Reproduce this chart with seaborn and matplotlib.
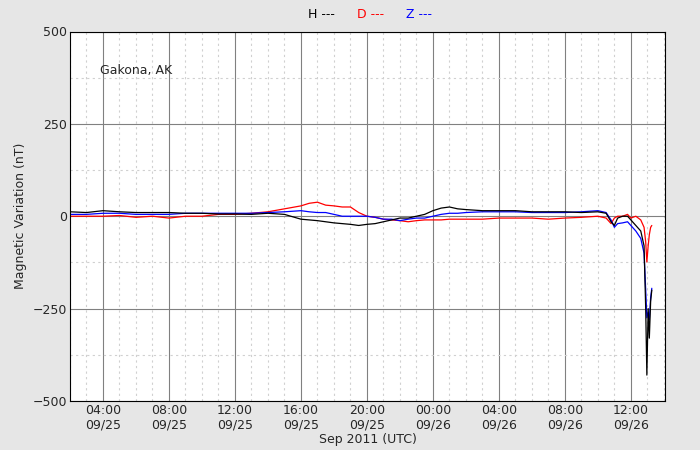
import numpy as np
import pandas as pd
import matplotlib
matplotlib.use("Agg")
import matplotlib.pyplot as plt
import matplotlib.dates as mdates
import seaborn as sns

# hours since 2011-09-25 00:00 UTC
hours = [2, 3, 4, 5, 6, 7, 8, 9, 10, 11, 12, 13, 14, 15, 16, 16.5, 17, 17.5, 18, 18.5,
         19, 19.5, 20, 20.5, 21, 21.5, 22, 22.5, 23, 23.5, 24, 24.5, 25, 25.5, 26, 27,
         28, 29, 30, 31, 32, 33, 34, 34.5, 34.8, 35.0, 35.2, 35.5, 35.8, 36.0, 36.3,
         36.6, 36.8, 36.9, 36.97, 37.05, 37.12, 37.2, 37.27]
H = [12, 10, 15, 12, 10, 10, 10, 8, 8, 6, 6, 5, 8, 5, -8, -10, -12, -15, -18, -20,
     -22, -25, -22, -20, -15, -10, -5, -5, 0, 5, 15, 22, 25, 20, 18, 15,
     15, 15, 12, 12, 12, 10, 12, 8, -15, -25, -5, 0, 0, -10, -25,
     -40, -80, -250, -430, -250, -330, -230, -200]
D = [0, 0, 0, 2, -3, 0, -5, 0, 0, 5, 5, 8, 12, 20, 28, 35, 38, 30, 28, 25,
     25, 10, 0, -3, -8, -10, -12, -15, -12, -10, -10, -10, -8, -8, -8, -8,
     -5, -5, -5, -8, -5, -3, 0, -5, -20, -5, 0, 0, 5, -5, 0,
     -10, -30, -70, -124, -80, -50, -30, -25]
Z = [5, 5, 8, 8, 5, 5, 5, 8, 8, 8, 8, 8, 10, 12, 15, 12, 10, 10, 5, 0,
     0, 0, 0, -3, -8, -8, -12, -8, -5, -5, 0, 5, 8, 8, 10, 12,
     12, 12, 10, 10, 10, 12, 15, 10, -10, -30, -20, -18, -15, -25, -40,
     -60, -100, -200, -275, -260, -280, -220, -195]

t0 = pd.Timestamp("2011-09-25 00:00")
times = [t0 + pd.Timedelta(hours=h) for h in hours]
df = pd.DataFrame({"time": times, "H": H, "D": D, "Z": Z})

sns.set_style("white")
fig, ax = plt.subplots(figsize=(7, 4.5), dpi=100)
fig.patch.set_facecolor("#e6e6e6")
fig.subplots_adjust(left=0.1, right=0.95, top=0.93, bottom=0.109)

for col, c in [("D", "red"), ("Z", "blue"), ("H", "black")]:
    sns.lineplot(data=df, x="time", y=col, color=c, lw=0.9, ax=ax)

ax.set_xlim(t0 + pd.Timedelta(hours=2), t0 + pd.Timedelta(hours=38.07))
ax.set_ylim(-500, 500)
ax.set_yticks([-500, -250, 0, 250, 500])
ax.set_yticklabels(["\u2212500", "\u2212250", "0", "250", "500"])
ax.set_yticks(np.arange(-375, 500, 125), minor=True)
ax.xaxis.set_major_locator(mdates.HourLocator(byhour=[0, 4, 8, 12, 16, 20]))
ax.xaxis.set_major_formatter(mdates.DateFormatter("%H:%M\n%m/%d"))
ax.xaxis.set_minor_locator(mdates.HourLocator())
ax.grid(True, which="major", color="gray", lw=0.8)
ax.grid(True, which="minor", color="#d0d0d0", ls=(0, (2, 3)), lw=0.8)
ax.tick_params(which="both", direction="in", labelsize=9, pad=2)
for s in ax.spines.values():
    s.set_color("black")
ax.set_xlabel("Sep 2011 (UTC)", fontsize=9, labelpad=1)
ax.set_ylabel("Magnetic Variation (nT)", fontsize=9)
ax.text(0.05, 0.885, "Gakona, AK", transform=ax.transAxes, fontsize=9)

fig.text(0.44, 0.968, "H ---", color="black", fontsize=9, ha="left", va="center")
fig.text(0.51, 0.968, "D ---", color="red", fontsize=9, ha="left", va="center")
fig.text(0.58, 0.968, "Z ---", color="blue", fontsize=9, ha="left", va="center")

fig.savefig("out.png", dpi=100, facecolor=fig.get_facecolor())
